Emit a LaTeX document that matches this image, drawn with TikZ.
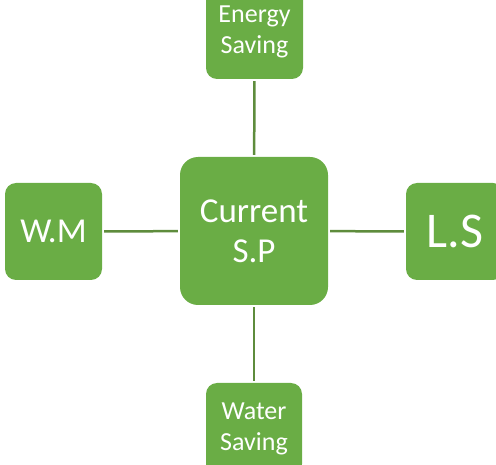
\documentclass[tikz,border=0pt]{standalone}
\usepackage{fontspec}
\setmainfont{Carlito}
\definecolor{boxgreen}{HTML}{6AAD45}
\definecolor{linegreen}{HTML}{5E8C3C}
\begin{document}
\begin{tikzpicture}[x=1pt,y=-1pt,
  gbox/.style={fill=boxgreen,draw=none,text=white,align=center,inner sep=0pt},
  conn/.style={draw=linegreen,line width=2.5pt,shorten <=2pt,shorten >=2pt}]
\useasboundingbox (0,0) rectangle (496,465);
\clip (0,0) rectangle (496,465);
\node[gbox,rounded corners=11pt,minimum width=97pt,minimum height=94pt,font=\fontsize{26}{31}\selectfont] (top) at (254.5,32) {Energy\\Saving};
\node[gbox,rounded corners=11pt,minimum width=97pt,minimum height=97pt,font=\fontsize{35}{40}\selectfont] (left) at (53.5,231.5) {W.M};
\node[gbox,rounded corners=11pt,minimum width=98pt,minimum height=97pt,font=\fontsize{50}{60}\selectfont] (right) at (455,231.5) {L.S};
\node[gbox,rounded corners=18pt,minimum width=148pt,minimum height=148pt,font=\fontsize{35}{40}\selectfont] (center) at (254,231) {Current\\S.P};
\node[gbox,rounded corners=11pt,minimum width=96pt,minimum height=92pt,font=\fontsize{26}{31}\selectfont] (bottom) at (254,429) {Water\\Saving};
\draw[conn] (top) -- (center);
\draw[conn] (center) -- (bottom);
\draw[conn] (left) -- (center);
\draw[conn] (center) -- (right);
\end{tikzpicture}
\end{document}
